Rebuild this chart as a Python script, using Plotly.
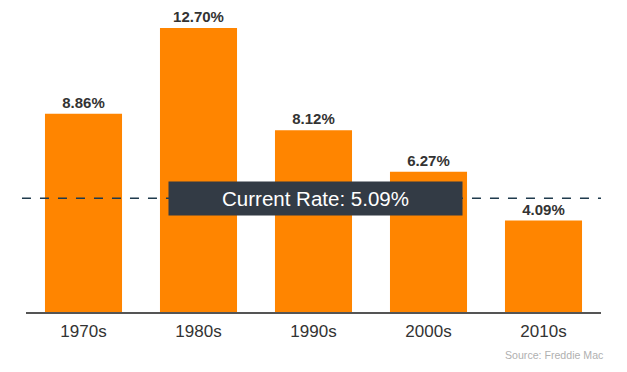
import plotly.graph_objects as go

decades = ["1970s", "1980s", "1990s", "2000s", "2010s"]
rates = [8.86, 12.70, 8.12, 6.27, 4.09]
rate_labels = ["8.86%", "12.70%", "8.12%", "6.27%", "4.09%"]
current_rate = 5.09
current_label = "Current Rate: 5.09%"
source_text = "Source: Freddie Mac"

fig = go.Figure()
fig.add_trace(go.Bar(
    x=decades, y=rates, text=rate_labels, textposition="outside",
    marker=dict(color="#FF8500", line=dict(width=0)),
    textfont=dict(family="Liberation Sans, Arial", size=15, color="#333333", weight="bold"),
    cliponaxis=False,
))

fig.add_shape(type="line", xref="paper", yref="y", x0=-0.007, x1=1, y0=current_rate, y1=current_rate,
              line=dict(color="#1f3a4d", width=1.5, dash="dash"))
fig.add_annotation(x=2.02, y=current_rate, xref="x", yref="y", text=current_label, showarrow=False,
                   font=dict(family="Liberation Sans, Arial", size=20.5, color="white"),
                   bgcolor="#333b45", width=291, height=31, align="center", valign="middle")
fig.add_annotation(x=1.009, y=-0.142, xref="paper", yref="paper", xanchor="right", yanchor="middle",
                   text=source_text, showarrow=False,
                   font=dict(family="Liberation Sans, Arial", size=10.6, color="#b0b0b0"))

fig.update_layout(
    width=627, height=372,
    margin=dict(l=18, r=34, t=2, b=68),
    plot_bgcolor="white", paper_bgcolor="white",
    bargap=0.33, showlegend=False,
    xaxis=dict(showline=True, linecolor="#555555", linewidth=1.5, ticks="", showgrid=False,
               ticklabelstandoff=3,
               tickfont=dict(family="Liberation Sans, Arial", size=17, color="#333333")),
    yaxis=dict(range=[0, 13.5], visible=False, showgrid=False),
)

fig.write_html("out.html")
